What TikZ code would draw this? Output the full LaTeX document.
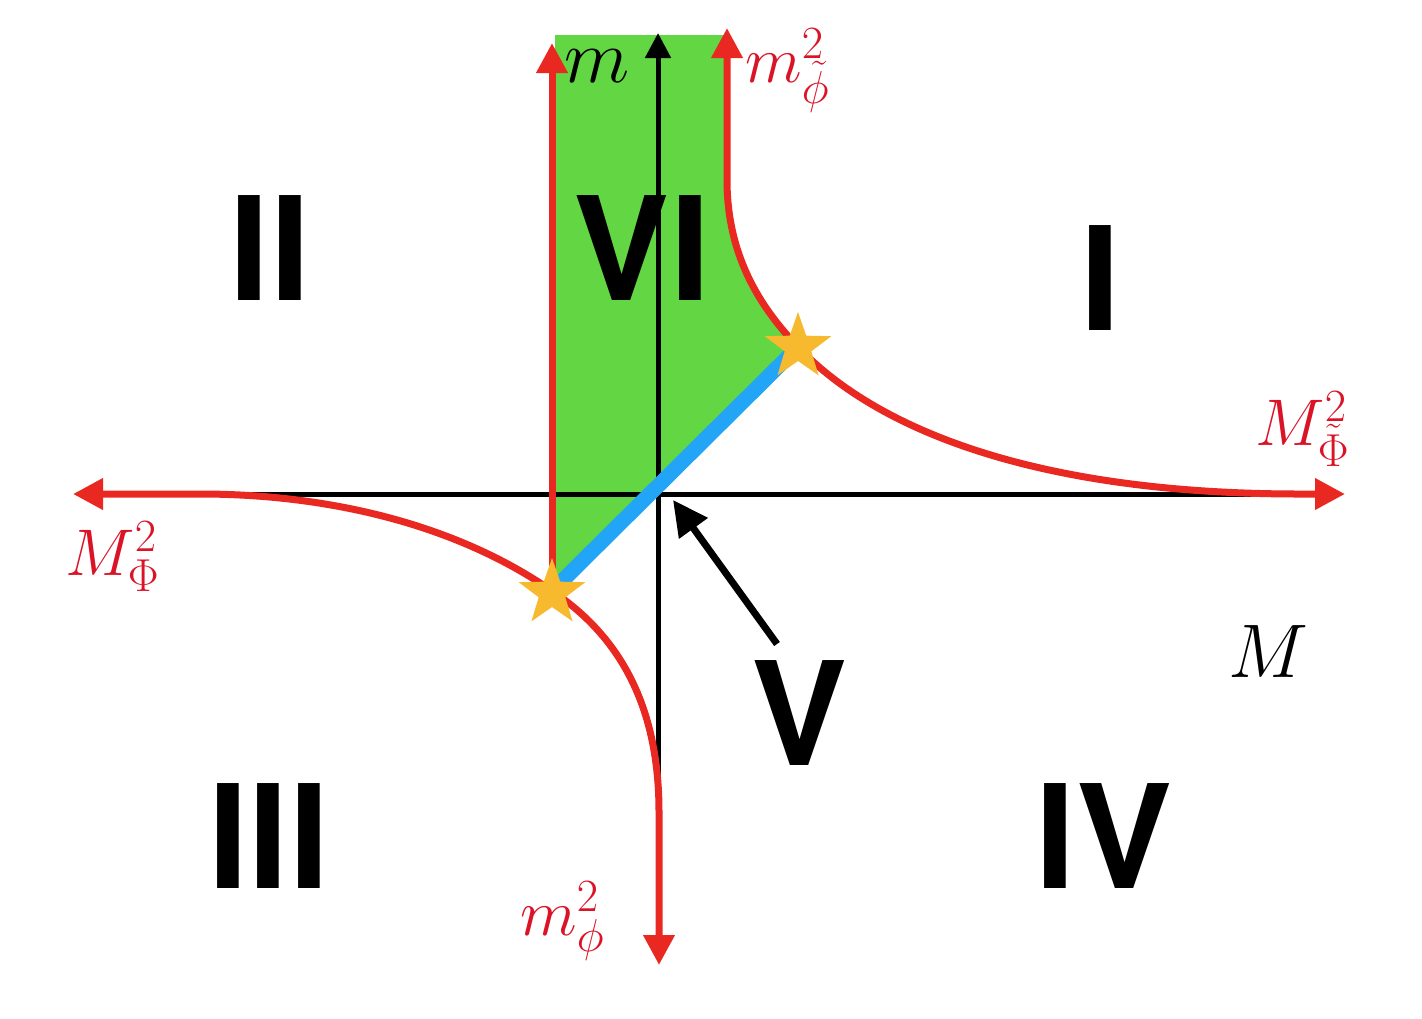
\documentclass[tikz,border=0pt]{standalone}
\usepackage{fix-cm}
\usepackage{fontspec}
\newfontfamily\romfont{TeX Gyre Heros}
\usetikzlibrary{arrows.meta,shapes.geometric}
\definecolor{myred}{RGB}{233,40,33}
\definecolor{labred}{RGB}{218,20,38}
\definecolor{mygreen}{RGB}{99,214,68}
\definecolor{myblue}{RGB}{34,165,247}
\definecolor{mystar}{RGB}{247,185,45}
\begin{document}
\begin{tikzpicture}[x=0.5pt,y=-0.5pt,
  redline/.style={draw=myred,line width=3.5pt},
  axis/.style={draw=black,line width=2.5pt},
  starnode/.style={star,star points=5,star point ratio=2.5,fill=mystar,minimum size=35pt,inner sep=0pt},
  roman/.style={font=\romfont\bfseries\fontsize{72}{80}\selectfont,inner sep=0pt,anchor=base},
  redlab/.style={text=labred,font=\fontsize{33}{38}\selectfont,inner sep=0pt,anchor=base west},
  blacklab/.style={font=\fontsize{38}{44}\selectfont,inner sep=0pt,anchor=base}]
\useasboundingbox (0,0) rectangle (1422,1018);
\coordinate (O) at (658,494);
\coordinate (Ytop) at (658,33);
\coordinate (Ybot) at (658,812);
\coordinate (Xl) at (75,494);
\coordinate (Xr) at (1330,494);
\coordinate (U) at (798,347);
\coordinate (L) at (552,591);
\coordinate (Ltop) at (552,43);
\coordinate (Vtail) at (777,644);
\coordinate (Vtip) at (673,500);
% green region
\fill[mygreen] (555,35) -- (727,35) -- (727,183) .. controls (728,260) and (763,310) .. (U) -- (556,589) -- cycle;
% axes
\draw[axis,-{Triangle[length=12.5pt,width=12.5pt]}] (Ybot) -- (Ytop);
\draw[axis,-{Triangle[length=12.5pt,width=12.5pt]}] (Xr) -- (Xl);
% blue line
\draw[myblue,line width=7.5pt] (L) -- (U);
% red curves
\draw[redline,{Triangle[length=15pt,width=15pt]}-{Triangle[length=15pt,width=15pt]}] (727,28) -- (727,183) .. controls (728,260) and (763,310) .. (U) .. controls (883,436) and (1050,494) .. (1300,494) -- (1345,494);
\draw[redline,{Triangle[length=15pt,width=15pt]}-{Triangle[length=15pt,width=15pt]}] (659,965) -- (659,812) .. controls (659,700) and (615,633) .. (L) .. controls (457,525) and (330,494) .. (200,494) -- (73,494);
\draw[redline,-{Triangle[length=15pt,width=15pt]}] (L) -- (Ltop);
% stars
\node[starnode] (sU) at (U) {};
\node[starnode] (sL) at (552,593) {};
% arrow to V
\draw[black,line width=3.5pt,-{Triangle[length=17.5pt,width=17pt]}] (Vtail) -- (Vtip);
% region labels
\node[roman] (rII) at (270,300) {II};
\node[roman] (rVI) at (642,300) {VI};
\node[roman] (rI) at (1100,330) {I};
\node[roman] (rIII) at (269,888) {III};
\node[roman] (rV) at (800,765) {V};
\node[roman] (rIV) at (1104,888) {IV};
% math labels
\node[blacklab] (lm) at (597,82) {$m$};
\node[blacklab] (lM) at (1268,677) {$M$};
\node[redlab] (lmt) at (745,82) {$m^2_{\tilde\phi}$};
\node[redlab] (lMt) at (1255,445) {$M^2_{\tilde\Phi}$};
\node[redlab] (lMP) at (65,575) {$M^2_\Phi$};
\node[redlab] (lmp) at (520,935) {$m^2_\phi$};
\end{tikzpicture}
\end{document}
